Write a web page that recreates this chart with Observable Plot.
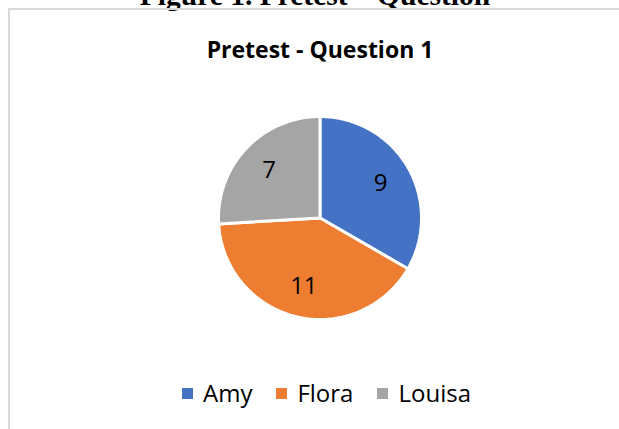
<!DOCTYPE html>
<html>
<head>
<meta charset="utf-8">
<script src="https://cdn.jsdelivr.net/npm/d3@7"></script>
<script src="https://cdn.jsdelivr.net/npm/@observablehq/plot@0.6"></script>
<style>
  html, body { margin: 0; padding: 0; background: #fff; }
  #wrap { position: relative; width: 619px; height: 429px; overflow: hidden; background: #fff; }
  #caption { position: absolute; left: 0; width: 630px; top: -19px; text-align: center;
    font-family: "Liberation Serif", "Times New Roman", serif; font-weight: bold; font-size: 29.5px; line-height: 29.5px; color: #000; white-space: nowrap; }
  #box { position: absolute; left: 8px; top: 8px; width: 800px; height: 600px; border: 2px solid #d9d9d9; box-sizing: border-box; }
  #title { position: absolute; left: 0; width: 640px; top: 38px; text-align: center;
    font-family: "Open Sans", sans-serif; font-weight: bold; font-size: 23px; line-height: 23px; color: #000; white-space: nowrap; }
  #chart { position: absolute; left: 0; top: 0; }
  #legend { position: absolute; left: 182px; top: 378px; display: flex; align-items: center;
    font-family: "Open Sans", sans-serif; font-size: 24px; line-height: 30px; color: #000; white-space: nowrap; }
  .item { display: flex; align-items: center; }
  .sw { width: 11px; height: 11px; margin-right: 10px; }
</style>
</head>
<body>
<div id="wrap">
  <div id="caption">Figure 1. Pretest – Question</div>
  <div id="box"></div>
  <div id="title">Pretest - Question 1</div>
  <div id="chart"></div>
  <div id="legend"></div>
</div>
<script>
const categories = ["Amy", "Flora", "Louisa"];
const values = [9, 11, 7];
const colors = ["#4472C4", "#ED7D31", "#A5A5A5"];

const arcs = d3.pie().sort(null).value(d => d)(values);

// polygon points for each slice (unit circle, angle 0 at top, clockwise)
const pts = [];
arcs.forEach((a, i) => {
  const name = categories[i];
  pts.push({name, x: 0, y: 0});
  const n = 120;
  for (let k = 0; k <= n; k++) {
    const t = a.startAngle + (a.endAngle - a.startAngle) * k / n;
    pts.push({name, x: Math.sin(t), y: Math.cos(t)});
  }
  pts.push({name, x: 0, y: 0});
});

const labels = arcs.map((a, i) => {
  const m = (a.startAngle + a.endAngle) / 2;
  return {name: categories[i], value: values[i], x: 0.69 * Math.sin(m), y: 0.69 * Math.cos(m)};
});

const chart = Plot.plot({
  width: 619,
  height: 429,
  margin: 0,
  x: {domain: [-1, 1], range: [218, 421], axis: null},
  y: {domain: [-1, 1], range: [319, 116], axis: null},
  color: {domain: categories, range: colors},
  style: {background: "transparent", overflow: "visible"},
  marks: [
    Plot.line(pts, {x: "x", y: "y", z: "name", fill: "name", stroke: "white", strokeWidth: 3, strokeLinejoin: "miter", curve: "linear"}),
    Plot.text(labels, {x: "x", y: "y", text: d => String(d.value), fill: "#000", fontSize: 24,
      fontFamily: "Open Sans, sans-serif", textAnchor: "middle", lineAnchor: "middle"})
  ]
});
document.getElementById("chart").appendChild(chart);

const legend = document.getElementById("legend");
categories.forEach((c, i) => {
  const it = document.createElement("div");
  it.className = "item";
  it.style.marginRight = i < categories.length - 1 ? "24px" : "0";
  const sw = document.createElement("div");
  sw.className = "sw";
  sw.style.background = colors[i];
  const tx = document.createElement("span");
  tx.textContent = c;
  it.appendChild(sw);
  it.appendChild(tx);
  legend.appendChild(it);
});
</script>
</body>
</html>
